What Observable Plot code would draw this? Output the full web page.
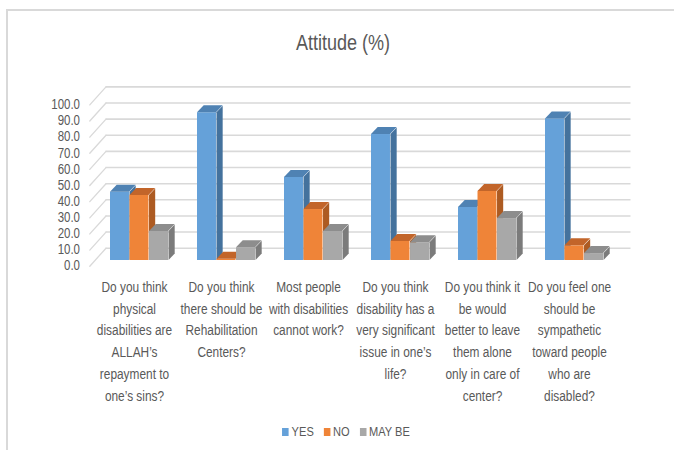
<!DOCTYPE html>
<html>
<head>
<meta charset="utf-8">
<script src="https://cdn.jsdelivr.net/npm/d3@7"></script>
<script src="https://cdn.jsdelivr.net/npm/@observablehq/plot@0.6"></script>
<style>
  html, body { margin: 0; padding: 0; background: #fff; }
  body { width: 674px; height: 450px; overflow: hidden; position: relative;
         font-family: "Liberation Sans", Arial, sans-serif; color: #595959; }
  #frame { position: absolute; left: 6px; top: 9px; width: 700px; height: 480px; border: 2px solid #d9d9d9; box-sizing: border-box; }
  #chart { position: absolute; left: 0; top: 0; }
  #title { position: absolute; left: 0; width: 686px; top: 29px; text-align: center; font-size: 22px; line-height: 28px; transform: scaleX(0.82); transform-origin: 343px 0; }
  #legend { position: absolute; top: 423px; left: 0; width: 692px; display: flex; justify-content: center; font-size: 13.5px; line-height: 18px; transform: scaleX(0.82); transform-origin: 346px 0; }
  .item { display: flex; align-items: center; margin: 0 6px; }
  .sw { width: 8.2px; height: 7.5px; margin-right: 3.4px; }
</style>
</head>
<body>
<div id="frame"></div>
<div id="chart"></div>
<div id="title">Attitude (%)</div>
<div id="legend"></div>
<script>
// ---- data ----
const questions = [
  "Do you think\nphysical\ndisabilities are\nALLAH’s\nrepayment to\none’s sins?",
  "Do you think\nthere should be\nRehabilitation\nCenters?",
  "Most people\nwith disabilities\ncannot work?",
  "Do you think\ndisability has a\nvery significant\nissue in one’s\nlife?",
  "Do you think it\nbe would\nbetter to leave\nthem alone\nonly in care of\ncenter?",
  "Do you feel one\nshould be\nsympathetic\ntoward people\nwho are\ndisabled?"
];
const series = ["YES", "NO", "MAY BE"];
const yesValues = [42.3, 91.6, 51.5, 78.1, 32.9, 87.8];
const noValues = [40.3, 0.8, 31.6, 11.8, 42.8, 9.1];
const maybeValues = [18.0, 7.9, 18.0, 11.0, 26.0, 4.3];
const yTicks = [0, 10, 20, 30, 40, 50, 60, 70, 80, 90, 100];

// ---- styles ----
const frontColors = ["#65a1d9", "#ef8438", "#a8a8a8"];
const sideColors = ["#44729d", "#ad5b22", "#7b7b7b"];
const topColors = ["#4f82b3", "#c2652a", "#8d8d8d"];
const W = 674, H = 450;
const mL = 94.5, mR = 54.5, mT = 98.7, mB = 190;
const pIn = 0.331, pOut = 0.1655;
const step = (W - mL - mR) / (questions.length - pIn + 2 * pOut);
const bandW = step * (1 - pIn);
const bw = bandW / 3;
const dX = 6.7, dZ = 7; // depth of bars in px
const narrow = 0.82;     // horizontal squeeze of the narrow chart font
const font = "'Liberation Sans', Arial, sans-serif";

const valueSets = [yesValues, noValues, maybeValues];
const table = questions.flatMap((q, i) => series.map((s, j) => ({q, s, j, value: valueSets[j][i]})));

const lineShape = {draw(context, l) { context.moveTo(0, 0); context.lineTo(0, -l); }};

const barMarks = series.flatMap((s, j) => {
  const rows = table.filter(d => d.s === s);
  return [
    Plot.barY(rows, {x: "q", y: "value", fill: frontColors[j], insetLeft: j * bw, insetRight: bandW - (j + 1) * bw}),
    Plot.barY(rows, {x: "q", y: "value", fill: sideColors[j], insetLeft: (j + 1) * bw, insetRight: bandW - (j + 1) * bw - dX, ariaLabel: () => "side"}),
    Plot.barY(rows, {x: "q", y1: "value", y2: "value", fill: topColors[j], insetTop: -dZ, insetLeft: j * bw, insetRight: bandW - (j + 1) * bw, ariaLabel: () => "topface"})
  ];
});

const svg = Plot.plot({
  width: W, height: H,
  marginLeft: mL, marginRight: mR, marginTop: mT, marginBottom: mB,
  style: {fontFamily: font, color: "#595959", background: "transparent", overflow: "visible"},
  x: {domain: questions, paddingInner: pIn, paddingOuter: pOut, axis: null},
  y: {domain: [0, 100], axis: null},
  marks: [
    Plot.ruleY(yTicks, {y: d => d, dx: 11, dy: -12.3, stroke: "#d9d9d9", strokeWidth: 1.6}),
    Plot.vector(yTicks, {y: d => d, frameAnchor: "left", dx: -5.2, dy: 5.7, length: 24.2, rotate: 42, anchor: "start", shape: lineShape, stroke: "#d9d9d9", strokeWidth: 1.3}),
    Plot.text(yTicks, {y: d => d, text: d => d.toFixed(1), frameAnchor: "left", textAnchor: "end", dx: -15, dy: 5.5, fontSize: 14, fill: "#595959"}),
    ...barMarks,
    Plot.text(questions, {x: d => d, text: d => d, frameAnchor: "bottom", lineAnchor: "top", dy: 16, dx: -5, fontSize: 14.5, lineHeight: 1.5, fill: "#595959"})
  ]
});

// give the bars their 3D faces
const kSide = Math.atan(dZ / dX) * 180 / Math.PI;
const kTop = Math.atan(dX / dZ) * 180 / Math.PI;
d3.select(svg).selectAll('rect[aria-label="side"]').each(function () {
  const x = +this.getAttribute("x");
  this.setAttribute("transform", `translate(${x},0) skewY(${-kSide}) translate(${-x},0)`);
});
d3.select(svg).selectAll('rect[aria-label="topface"]').each(function () {
  const yb = +this.getAttribute("y") + +this.getAttribute("height");
  this.setAttribute("transform", `translate(0,${yb}) skewX(${-kTop}) translate(0,${-yb})`);
});
// narrow (condensed) look for all texts, squeezed around each text's anchor
d3.select(svg).selectAll("text").each(function () {
  const t = this.getAttribute("transform") || "";
  this.setAttribute("transform", `${t} scale(${narrow},1)`);
});
document.getElementById("chart").appendChild(svg);

// legend
const legend = d3.select("#legend");
series.forEach((s, j) => {
  const it = legend.append("div").attr("class", "item");
  it.append("div").attr("class", "sw").style("background", frontColors[j]);
  it.append("span").text(s);
});
</script>
</body>
</html>
